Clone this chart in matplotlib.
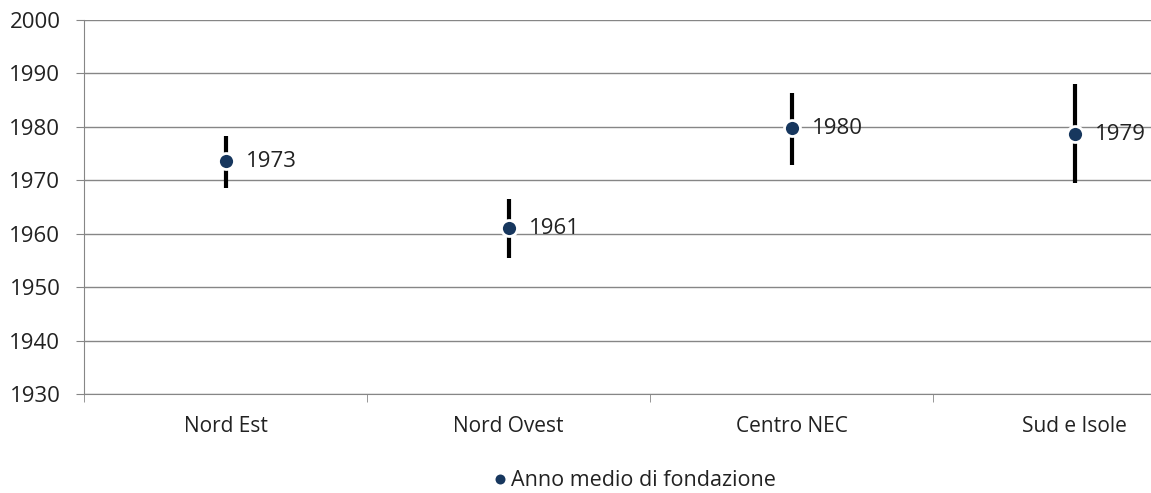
import matplotlib.pyplot as plt
import numpy as np

# Data
regioni = ['Nord Est', 'Nord Ovest', 'Centro NEC', 'Sud e Isole']
anno_medio = [1973.6, 1961.0, 1979.7, 1978.6]
err_basso = [1968.6, 1955.5, 1972.9, 1969.5]
err_alto = [1978.3, 1966.5, 1986.4, 1988.0]
etichette = ['1973', '1961', '1980', '1979']

plt.rcParams['font.family'] = ['Open Sans', 'DejaVu Sans']

fig = plt.figure(figsize=(11.51, 4.93), dpi=100)
# plot area runs past the right edge of the picture, like the original
ax = fig.add_axes([84 / 1151, 99 / 493, 1132 / 1151, 374 / 493])

x = np.arange(len(regioni))
media = np.array(anno_medio)
yerr = [media - np.array(err_basso), np.array(err_alto) - media]

ax.errorbar(x, media, yerr=yerr, fmt='none', ecolor='black', elinewidth=3,
            capsize=0, zorder=3)
ax.plot(x, media, 'o', color='#17375E', markersize=11.5, markeredgecolor='white',
        markeredgewidth=2, zorder=4, label='Anno medio di fondazione')

for xi, yi, t in zip(x, media, etichette):
    ax.annotate(t, (xi, yi), xytext=(15, 0), textcoords='offset points',
                ha='left', va='center', fontsize=16, color='#222222')

ax.set_xlim(-0.5, 3.5)
ax.set_ylim(1930, 2000)
ax.set_yticks(np.arange(1930, 2001, 10))
ax.yaxis.grid(True, color='#868686', linewidth=1)
ax.set_axisbelow(True)

ax.set_xticks(x)
ax.set_xticklabels(regioni)
ax.set_xticks(np.arange(-0.5, 4, 1), minor=True)
ax.tick_params(axis='x', which='major', length=0, pad=16, labelsize=15,
               labelcolor='#222222')
ax.tick_params(axis='x', which='minor', length=6, color='#868686', direction='out')
ax.tick_params(axis='y', length=6, color='#868686', pad=11, labelsize=16,
               labelcolor='#222222')

for s in ['top', 'right']:
    ax.spines[s].set_visible(False)
for s in ['left', 'bottom']:
    ax.spines[s].set_color('#868686')

fig.legend(loc='center', bbox_to_anchor=(634 / 1151, 1 - 481 / 493),
           frameon=False, fontsize=15.5, handlelength=0.8, handletextpad=0.1,
           markerscale=0.8, labelcolor='#222222')

fig.savefig('out.png', dpi=100)
